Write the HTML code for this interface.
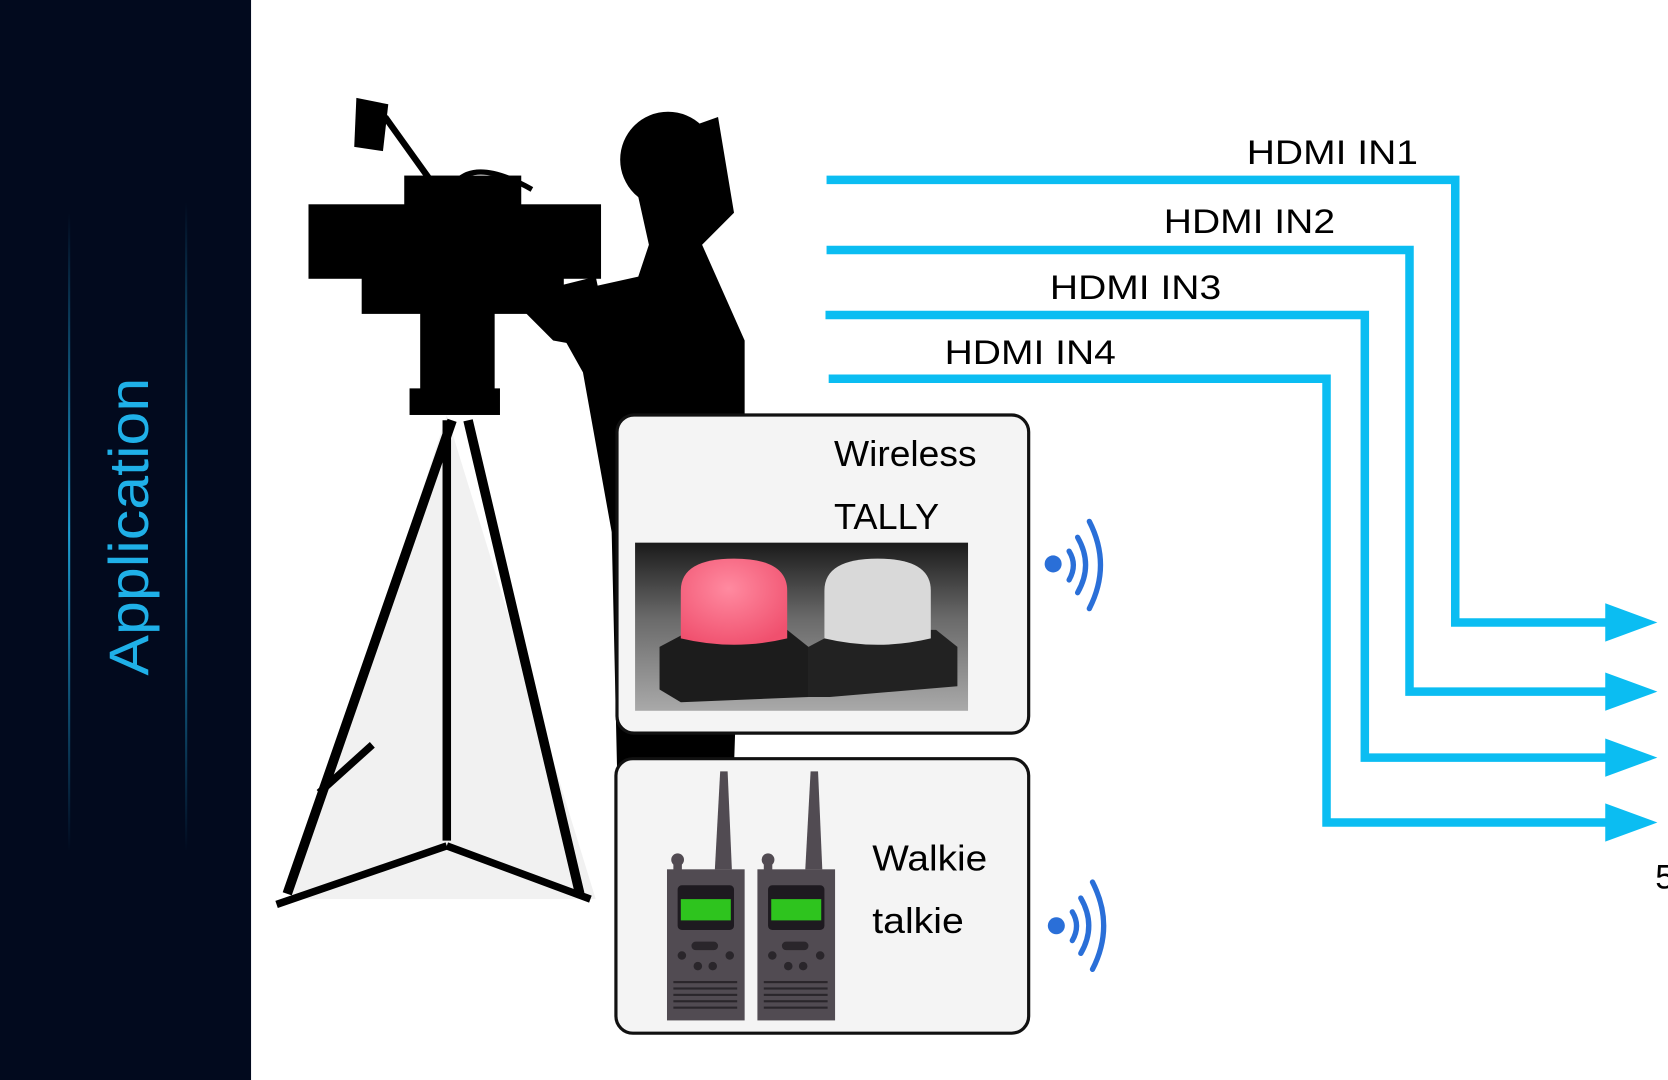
<!DOCTYPE html>
<html><head><meta charset="utf-8"><style>
html,body{margin:0;padding:0;background:#fff;width:1668px;height:1080px;overflow:hidden}
svg{display:block}
text{font-family:"Liberation Sans",sans-serif}
</style></head><body>
<svg width="1668" height="1080" viewBox="0 0 1568 1015" preserveAspectRatio="none" xmlns="http://www.w3.org/2000/svg">
<defs>
<linearGradient id="vl" x1="0" y1="0" x2="0" y2="1">
<stop offset="0" stop-color="#1fb0e8" stop-opacity="0"/><stop offset="0.5" stop-color="#1fb0e8" stop-opacity="0.9"/><stop offset="1" stop-color="#1fb0e8" stop-opacity="0"/></linearGradient>
<radialGradient id="pk" cx="0.45" cy="0.35" r="0.7"><stop offset="0" stop-color="#ff8aa0"/><stop offset="1" stop-color="#f0506e"/></radialGradient>
<linearGradient id="ph" x1="0" y1="0" x2="0" y2="1"><stop offset="0" stop-color="#1a1a1a"/><stop offset="0.45" stop-color="#6a6a6a"/><stop offset="1" stop-color="#a9a9a9"/></linearGradient>
</defs>
<rect width="1568" height="1015" fill="#fff"/>
<rect width="236" height="1015" fill="#020a1e"/>
<rect x="64" y="200" width="2" height="600" fill="url(#vl)"/>
<rect x="174" y="190" width="2" height="610" fill="url(#vl)"/>
<text transform="translate(139,495) rotate(-90)" text-anchor="middle" font-size="52" textLength="280" lengthAdjust="spacingAndGlyphs" fill="#1fb0e8">Application</text>
<polygon points="420,390 272,845 560,845" fill="#f1f1f1"/>
<g fill="#000" stroke="#000">
<rect x="290" y="192" width="275" height="70" stroke="none"/>
<rect x="380" y="165" width="110" height="35" stroke="none"/>
<rect x="340" y="255" width="190" height="40" stroke="none"/>
<rect x="395" y="290" width="70" height="80" stroke="none"/>
<rect x="385" y="365" width="85" height="25" stroke="none"/>
<polygon points="335,92 365,98 360,142 333,138" stroke="none"/>
<line x1="362" y1="110" x2="405" y2="170" stroke-width="6"/>
<path d="M430 170 Q450 150 500 178" fill="none" stroke-width="5"/>
<line x1="425" y1="395" x2="270" y2="840" stroke-width="9"/>
<line x1="440" y1="395" x2="545" y2="840" stroke-width="9"/>
<line x1="420" y1="395" x2="420" y2="790" stroke-width="8"/>
<line x1="300" y1="745" x2="350" y2="700" stroke-width="7"/>
<line x1="260" y1="850" x2="420" y2="795" stroke-width="7"/>
<line x1="420" y1="795" x2="555" y2="845" stroke-width="7"/>
<circle cx="628" cy="150" r="45" stroke="none"/>
<polygon points="590,140 675,110 690,200 660,230 700,320 700,420 690,720 580,720 575,500 548,350 520,300 555,270 600,260 610,230" stroke="none"/>
<polygon points="480,280 560,260 575,330 520,320" stroke="none"/>
</g>
<g fill="none" stroke="#0bbdf2" stroke-width="8">
<polyline points="777,169 1368,169 1368,585 1515,585"/>
<polyline points="777,235 1325,235 1325,650 1515,650"/>
<polyline points="776,296 1283,296 1283,712 1515,712"/>
<polyline points="779,356 1247,356 1247,773 1515,773"/>
</g>
<g fill="#0bbdf2">
<polygon points="1509,567 1558,585 1509,603"/>
<polygon points="1509,632 1558,650 1509,668"/>
<polygon points="1509,694 1558,712 1509,730"/>
<polygon points="1509,755 1558,773 1509,791"/>
</g>
<g font-size="32" fill="#000" lengthAdjust="spacingAndGlyphs">
<text x="1172" y="154" textLength="161" lengthAdjust="spacingAndGlyphs">HDMI IN1</text>
<text x="1094" y="219" textLength="161" lengthAdjust="spacingAndGlyphs">HDMI IN2</text>
<text x="987" y="281" textLength="161" lengthAdjust="spacingAndGlyphs">HDMI IN3</text>
<text x="888" y="342" textLength="161" lengthAdjust="spacingAndGlyphs">HDMI IN4</text>
<text x="1556" y="835">5</text>
</g>
<rect x="580" y="390" width="387" height="299" rx="16" fill="#f4f4f4" stroke="#111" stroke-width="3"/>
<text x="784" y="438" font-size="34" textLength="134" lengthAdjust="spacingAndGlyphs">Wireless</text>
<text x="784" y="497" font-size="34">TALLY</text>
<rect x="597" y="510" width="313" height="158" fill="url(#ph)"/>
<polygon points="620,608 650,592 740,592 760,608 760,655 640,660 620,648" fill="#1c1c1c"/>
<polygon points="760,608 790,592 880,592 900,608 900,645 780,655 760,655" fill="#222"/>
<path d="M640 600 L640 555 Q640 525 690 525 Q740 525 740 555 L740 600 Q690 612 640 600Z" fill="url(#pk)"/>
<path d="M775 600 L775 555 Q775 525 825 525 Q875 525 875 555 L875 600 Q825 612 775 600Z" fill="#d9d9d9"/>
<rect x="579" y="713" width="388" height="258" rx="16" fill="#f4f4f4" stroke="#111" stroke-width="3"/>
<text x="820" y="818" font-size="34" textLength="108" lengthAdjust="spacingAndGlyphs">Walkie</text>
<text x="820" y="877" font-size="34" textLength="86" lengthAdjust="spacingAndGlyphs">talkie</text>
<g fill="#514b52">
<polygon points="672,817 677,725 684,725 688,817"/>
<circle cx="637" cy="808" r="6"/><rect x="633" y="808" width="8" height="12"/>
<rect x="627" y="817" width="73" height="142"/>
<polygon points="757,817 762,725 769,725 773,817"/>
<circle cx="722" cy="808" r="6"/><rect x="718" y="808" width="8" height="12"/>
<rect x="712" y="817" width="73" height="142"/>
</g>
<g fill="#1e1a20"><rect x="637" y="832" width="53" height="42" rx="4"/><rect x="722" y="832" width="53" height="42" rx="4"/></g>
<g fill="#2ec41e"><rect x="640" y="845" width="47" height="20"/><rect x="725" y="845" width="47" height="20"/></g>
<g fill="#2a262b">
<rect x="650" y="885" width="25" height="8" rx="4"/><circle cx="641" cy="898" r="4"/><circle cx="686" cy="898" r="4"/><circle cx="656" cy="908" r="4"/><circle cx="670" cy="908" r="4"/>
<rect x="735" y="885" width="25" height="8" rx="4"/><circle cx="726" cy="898" r="4"/><circle cx="771" cy="898" r="4"/><circle cx="741" cy="908" r="4"/><circle cx="755" cy="908" r="4"/>
<rect x="633" y="922" width="60" height="2"/><rect x="633" y="928" width="60" height="2"/><rect x="633" y="934" width="60" height="2"/><rect x="633" y="940" width="60" height="2"/><rect x="633" y="946" width="60" height="2"/>
<rect x="718" y="922" width="60" height="2"/><rect x="718" y="928" width="60" height="2"/><rect x="718" y="934" width="60" height="2"/><rect x="718" y="940" width="60" height="2"/><rect x="718" y="946" width="60" height="2"/>
</g>
<g fill="none" stroke="#2a6fd8" stroke-width="5" stroke-linecap="round">
<path d="M1005 518 Q1013 531 1005 545"/><path d="M1013 505 Q1028 531 1013 557"/><path d="M1024 490 Q1045 531 1024 572"/>
<path d="M1008 857 Q1016 870 1008 884"/><path d="M1016 844 Q1031 870 1016 896"/><path d="M1027 829 Q1048 870 1027 911"/>
</g>
<circle cx="990" cy="530" r="8" fill="#2a6fd8"/>
<circle cx="993" cy="870" r="8" fill="#2a6fd8"/>
</svg>
</body></html>
